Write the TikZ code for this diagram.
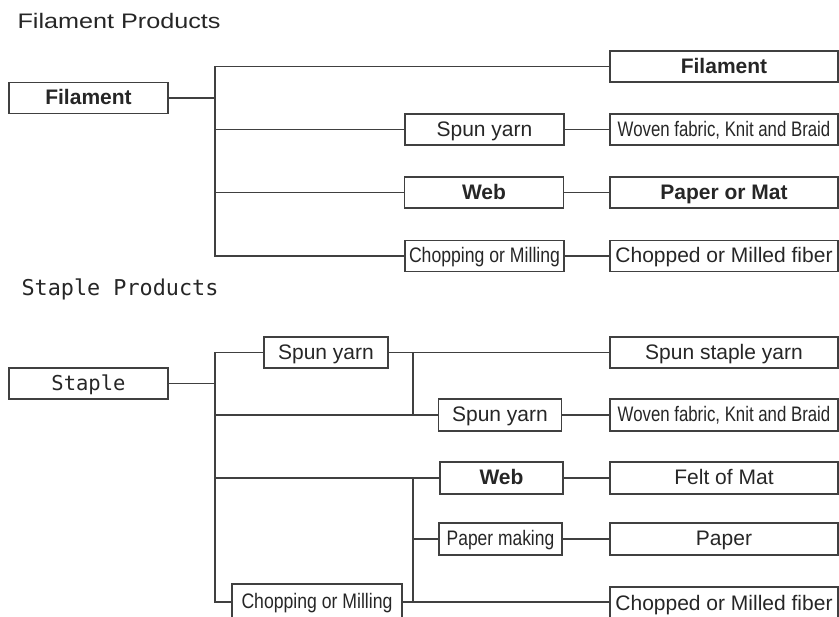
\documentclass[tikz,border=0pt]{standalone}
\usepackage{fontspec}
\setmainfont{Liberation Sans}
\newfontfamily\monofont{DejaVu Sans Mono}
\usepackage{graphicx}
\usetikzlibrary{positioning}
\definecolor{linegray}{HTML}{404040}
\definecolor{textgray}{HTML}{262626}
\newcommand{\narrow}[2]{\scalebox{#1}[1]{#2}}

\begin{document}
\begin{tikzpicture}
[x=1pt,y=-1pt,line width=1.1pt,
box/.style = {draw=linegray, rectangle, inner sep = 0pt, minimum height = 31pt, text=textgray, font=\fontsize{21}{23}\selectfont, text height=17pt, text depth=3pt},
leftbox/.style = {box, minimum width = 159pt},
midbox/.style = {box, minimum width = 123pt},
endbox/.style = {box, minimum width = 228pt},
title/.style = {anchor = west, inner sep = 0pt, text=textgray},]
\useasboundingbox (0,0) rectangle (839,617);
\clip (0,0) rectangle (839,617);
% filament products
\node (ftitle) at (17,21)[title,font=\fontsize{21}{23}\selectfont] {\narrow{1.2}{Filament Products}};
\node (fil) at (88.5,98)[leftbox] {\bfseries Filament};
\node (filR) at (724,66.5)[endbox] {\bfseries Filament};
\node (spunA) at (484.5,129.5)[leftbox] {Spun yarn};
\node (wovenA) at (724,129.5)[endbox] {\narrow{0.8}{Woven fabric, Knit and Braid}};
\node (webA) at (484,192.5)[leftbox] {\bfseries Web};
\node (papmat) at (724,192.5)[endbox] {\bfseries Paper or Mat};
\node (chopA) at (484.5,256)[leftbox] {\narrow{0.84}{Chopping or Milling}};
\node (fiberA) at (724,256)[endbox] {Chopped or Milled fiber};
\coordinate (jA) at (215,98);
\draw[linegray] (fil) -- (jA);
\draw[linegray] (filR.west) -| (jA) |- (chopA.west);
\draw[linegray] (spunA.west) -- (spunA.west -| jA);
\draw[linegray] (webA.west) -- (webA.west -| jA);
\draw[linegray] (spunA) -- (wovenA);
\draw[linegray] (webA) -- (papmat);
\draw[linegray] (chopA) -- (fiberA);
% staple products
\node (stitle) at (21,289)[title,font=\monofont\fontsize{21.8}{24}\selectfont] {Staple Products};
\node (staple) at (88.5,383.5)[leftbox,font=\monofont\fontsize{20.5}{22}\selectfont] {Staple};
\node (spunB) at (326,352.5)[box,minimum width=124pt] {Spun yarn};
\node (spunstaple) at (724,352.5)[endbox] {Spun staple yarn};
\node (spunC) at (500,415)[midbox,minimum height=32pt] {Spun yarn};
\node (wovenB) at (724,415)[endbox,minimum height=32pt] {\narrow{0.8}{Woven fabric, Knit and Braid}};
\node (webB) at (501.5,478)[midbox,minimum height=32pt] {\bfseries Web};
\node (felt) at (724,478)[endbox,minimum height=32pt] {Felt of Mat};
\node (papmk) at (500.5,539)[midbox,minimum height=32pt] {\narrow{0.83}{Paper making}};
\node (paper) at (724,539)[endbox,minimum height=32pt] {Paper};
\node (chopB) at (317,602)[box,minimum width=170pt,minimum height=36pt] {\narrow{0.84}{Chopping or Milling}};
\node (fiberB) at (724,604)[endbox,minimum height=34pt] {Chopped or Milled fiber};
\coordinate (jB) at (215,383.5);
\coordinate (kB) at (413,352.5);
\draw[linegray] (staple) -- (jB);
\draw[linegray] (spunB.west) -| (jB) |- (chopB.west);
\draw[linegray] (spunC.west) -- (spunC.west -| jB);
\draw[linegray] (webB.west) -- (webB.west -| jB);
\draw[linegray] (spunB) -- (spunstaple);
\draw[linegray] (kB) -- (kB |- spunC.west);
\draw[linegray] (webB.west -| kB) -- (chopB.east -| kB);
\draw[linegray] (papmk.west) -- (papmk.west -| kB);
\draw[linegray] (spunC) -- (wovenB);
\draw[linegray] (webB) -- (felt);
\draw[linegray] (papmk) -- (paper);
\draw[linegray] (chopB.east) -- (fiberB.west |- chopB.east);
\end{tikzpicture}
\end{document}
